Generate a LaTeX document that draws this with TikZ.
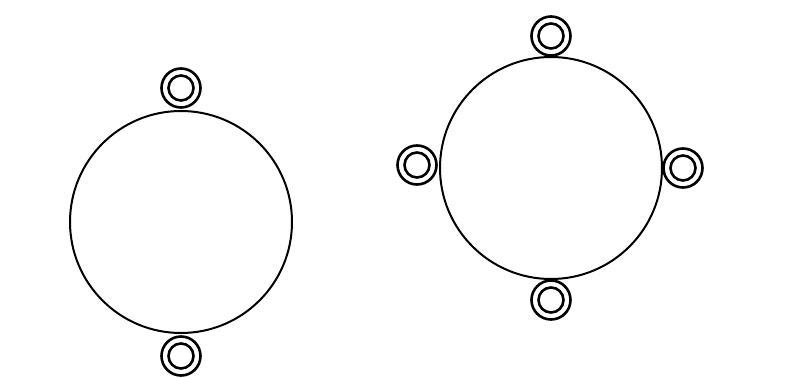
\documentclass[tikz,border=0pt]{standalone}
\begin{document}
\begin{tikzpicture}[x=1pt,y=-1pt,
  big/.style={circle,draw,line width=2pt,minimum size=222pt,inner sep=0pt},
  ringout/.style={circle,draw,line width=2.6pt,minimum size=39pt,inner sep=0pt},
  ringin/.style={circle,draw,line width=2.6pt,minimum size=25pt,inner sep=0pt}]
\useasboundingbox (0,0) rectangle (807,378);
\node[big] (L) at (181,222) {};
\node[ringout] (Lt) at (181,88) {};
\node[ringin] (Lti) at (181,88) {};
\node[ringout] (Lb) at (181,356) {};
\node[ringin] (Lbi) at (181,356) {};
\node[big] (R) at (551,168) {};
\node[ringout] (Rt) at (551,36) {};
\node[ringin] (Rti) at (551,36) {};
\node[ringout] (Rb) at (551,300) {};
\node[ringin] (Rbi) at (551,300) {};
\node[ringout] (Rl) at (417,165) {};
\node[ringin] (Rli) at (417,165) {};
\node[ringout] (Rr) at (683,168) {};
\node[ringin] (Rri) at (683,168) {};
\end{tikzpicture}
\end{document}
